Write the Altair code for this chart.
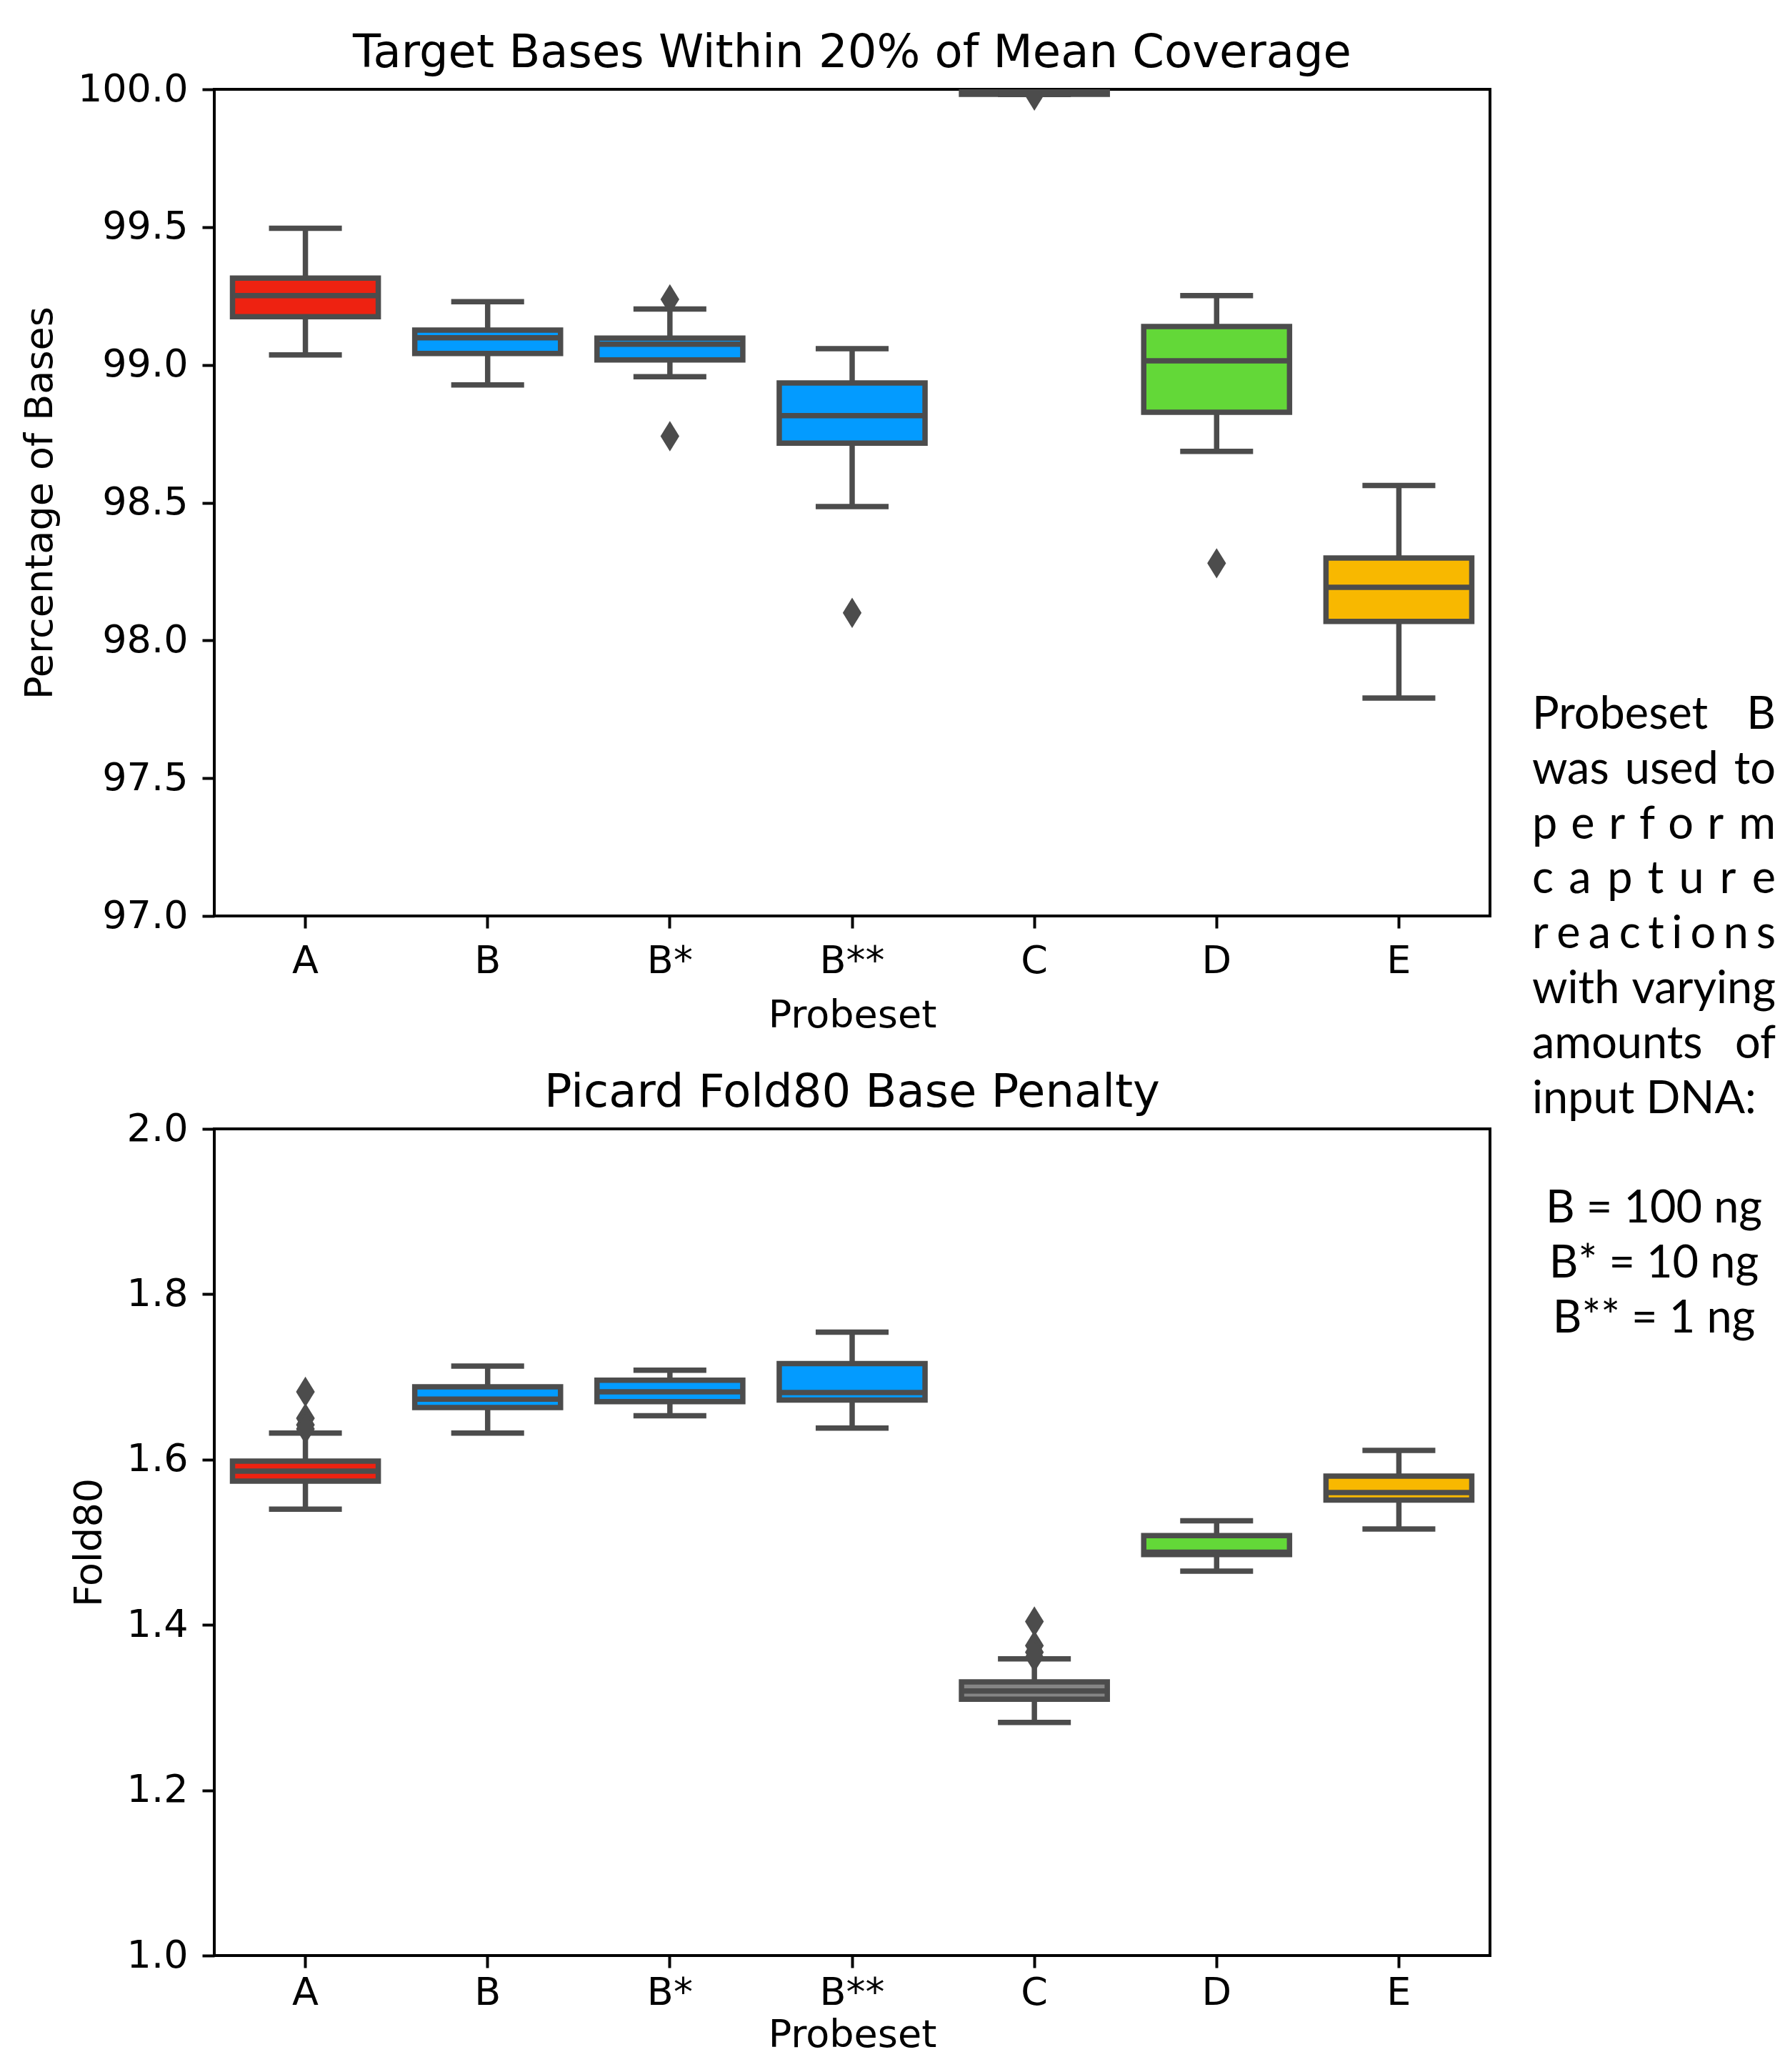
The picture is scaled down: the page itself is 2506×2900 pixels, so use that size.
import altair as alt
import pandas as pd

# ---------------- data ----------------
categories = ["A", "B", "B*", "B**", "C", "D", "E"]
box_colors = ["#EE2211", "#039BFF", "#039BFF", "#039BFF", "#858585", "#63D838", "#F8B800"]

# Target bases within 20% of mean coverage (percentage of bases)
cov_whislo = [99.036, 98.927, 98.957, 98.486, 99.981, 98.686, 97.791]
cov_q1 = [99.175, 99.041, 99.018, 98.716, 99.982, 98.828, 98.069]
cov_med = [99.251, 99.098, 99.075, 98.816, 99.992, 99.015, 98.193]
cov_q3 = [99.315, 99.126, 99.097, 98.934, 100.0, 99.139, 98.299]
cov_whishi = [99.496, 99.229, 99.203, 99.059, 100.0, 99.251, 98.562]
cov_out_cat = ["B*", "B*", "B**", "C", "D"]
cov_out_val = [99.238, 98.741, 98.100, 99.977, 98.280]

# Picard Fold80 base penalty
f80_whislo = [1.540, 1.632, 1.653, 1.638, 1.282, 1.465, 1.516]
f80_q1 = [1.574, 1.663, 1.670, 1.672, 1.310, 1.485, 1.551]
f80_med = [1.586, 1.673, 1.682, 1.681, 1.320, 1.488, 1.560]
f80_q3 = [1.598, 1.688, 1.696, 1.716, 1.331, 1.508, 1.580]
f80_whishi = [1.632, 1.713, 1.708, 1.754, 1.359, 1.526, 1.611]
f80_out_cat = ["A", "A", "A", "A", "C", "C", "C", "C"]
f80_out_val = [1.682, 1.650, 1.642, 1.637, 1.404, 1.375, 1.367, 1.361]

cov_ticks = [97.0, 97.5, 98.0, 98.5, 99.0, 99.5, 100.0]
f80_ticks = [1.0, 1.2, 1.4, 1.6, 1.8, 2.0]

# side note (justified text, one entry per line)
note_lines = [
    ["Probeset", "B"],
    ["was", "used", "to"],
    list("perform"),
    list("capture"),
    list("reactions"),
    ["with", "varying"],
    ["amounts", "of"],
    ["input DNA:"],
    [],
    ["B = 100 ng"],
    ["B* = 10 ng"],
    ["B** = 1 ng"],
]
centered_rows = {9, 10, 11}

# ---------------- styling ----------------
LINE = "#4C4C4C"
LW = 7.5
PLOT_W = 1786
PLOT_H = 1157
BAND = PLOT_W / len(categories)
FONT = "DejaVu Sans"
NOTE_FONT_SIZE = 63
NOTE_W = 341

DIAMOND = "M0,-1L0.62,0L0,1L-0.62,0Z"

# approximate advance widths (em) of the note font, for justification
GLYPH_EM = {
    "a": 0.51, "b": 0.56, "c": 0.47, "d": 0.56, "e": 0.53, "f": 0.33,
    "g": 0.50, "h": 0.56, "i": 0.24, "m": 0.84, "n": 0.56, "o": 0.56,
    "p": 0.55, "r": 0.37, "s": 0.43, "t": 0.35, "u": 0.56, "v": 0.51,
    "w": 0.76, "y": 0.51, "P": 0.60, "B": 0.63,
}


def tok_width(tok):
    return sum(GLYPH_EM.get(c, 0.5) for c in tok) * NOTE_FONT_SIZE


def stats_frame(lo, q1, med, q3, hi):
    return pd.DataFrame({
        "probeset": categories, "whislo": lo, "q1": q1, "med": med,
        "q3": q3, "whishi": hi,
    })


def box_layer(stats, out, domain, ticks, ytitle, xlabpad, xtitlepad):
    xenc = alt.X(
        "probeset:N", sort=categories,
        scale=alt.Scale(domain=categories, paddingInner=0, paddingOuter=0),
        axis=alt.Axis(labelAngle=0, bandPosition=0.5, title="Probeset",
                      labelPadding=xlabpad, titlePadding=xtitlepad),
    )
    yscale = alt.Scale(domain=domain, nice=False, zero=False)
    base = alt.Chart(stats)
    whisk = base.mark_rule(color=LINE, strokeWidth=LW, clip=True).encode(
        x=xenc,
        y=alt.Y("whislo:Q", scale=yscale,
                axis=alt.Axis(values=ticks, format=".1f", title=ytitle)),
        y2="whishi:Q",
    )
    box = base.mark_bar(
        width=alt.RelativeBandSize(0.8), stroke=LINE, strokeWidth=LW,
        opacity=1, clip=True,
    ).encode(
        x=xenc, y=alt.Y("q1:Q", scale=yscale), y2="q3:Q",
        color=alt.Color("probeset:N",
                        scale=alt.Scale(domain=categories, range=box_colors),
                        legend=None),
    )
    med = base.mark_tick(size=BAND * 0.8, thickness=LW, color=LINE,
                         opacity=1, clip=True).encode(
        x=xenc, y=alt.Y("med:Q", scale=yscale))
    caplo = base.mark_tick(size=BAND * 0.4, thickness=LW, color=LINE,
                           opacity=1, clip=True).encode(
        x=xenc, y=alt.Y("whislo:Q", scale=yscale))
    caphi = base.mark_tick(size=BAND * 0.4, thickness=LW, color=LINE,
                           opacity=1, clip=True).encode(
        x=xenc, y=alt.Y("whishi:Q", scale=yscale))
    pts = alt.Chart(out).mark_point(
        shape=DIAMOND, size=1800, filled=True, color=LINE, opacity=1,
        strokeWidth=0, clip=True,
    ).encode(x=xenc, y=alt.Y("val:Q", scale=yscale))
    return alt.layer(whisk, box, med, caplo, caphi, pts)


def make_title(text):
    return alt.TitleParams(text, fontSize=64, font=FONT, fontWeight="normal",
                           color="black", anchor="middle", offset=-9)


cov_stats = stats_frame(cov_whislo, cov_q1, cov_med, cov_q3, cov_whishi)
cov_out = pd.DataFrame({"probeset": cov_out_cat, "val": cov_out_val})
f80_stats = stats_frame(f80_whislo, f80_q1, f80_med, f80_q3, f80_whishi)
f80_out = pd.DataFrame({"probeset": f80_out_cat, "val": f80_out_val})

# note tokens: justified lines (equal gaps between tokens)
rows = []
for r, toks in enumerate(note_lines):
    n = len(toks)
    if n == 0:
        continue
    if r in centered_rows:
        rows.append({"row": r, "xf": 0.5, "txt": toks[0], "al": "center"})
        continue
    if n == 1:
        rows.append({"row": r, "xf": 0.0, "txt": toks[0], "al": "left"})
        continue
    widths = [tok_width(t) for t in toks]
    gap = (NOTE_W - sum(widths)) / (n - 1)
    pos = 0.0
    for k, t in enumerate(toks):
        if k == n - 1:
            rows.append({"row": r, "xf": 1.0, "txt": t, "al": "right"})
        else:
            rows.append({"row": r, "xf": pos / NOTE_W, "txt": t, "al": "left"})
        pos += widths[k] + gap
note_df = pd.DataFrame(rows)

note_x = alt.X("xf:Q", scale=alt.Scale(domain=[0, 1], range=[1845, 1845 + NOTE_W]), axis=None)
note_y = alt.Y("row:Q", scale=alt.Scale(domain=[0, 11], range=[876, 1721]), axis=None)
note_layers = []
for al in ["left", "center", "right"]:
    note_layers.append(
        alt.Chart(note_df).transform_filter(alt.datum.al == al).mark_text(
            align=al, baseline="middle", font="Lato", fontSize=NOTE_FONT_SIZE,
            color="black",
        ).encode(x=note_x, y=note_y, text="txt:N")
    )
note = alt.layer(*note_layers)

top_boxes = box_layer(cov_stats, cov_out, [97.0, 100.0], cov_ticks,
                      "Percentage of Bases", 19, 22)
top = alt.layer(top_boxes, note).resolve_scale(
    x="independent", y="independent"
).properties(
    width=PLOT_W, height=PLOT_H,
    title=make_title("Target Bases Within 20% of Mean Coverage"),
)
bottom = box_layer(f80_stats, f80_out, [1.0, 2.0], f80_ticks, "Fold80",
                   8, 5).properties(
    width=PLOT_W, height=PLOT_H,
    title=make_title("Picard Fold80 Base Penalty"),
)

chart = alt.vconcat(top, bottom, spacing=298, bounds="flush").properties(
    padding={"left": 19, "top": 33, "right": 0, "bottom": 0},
    background="white",
).configure_view(
    stroke="black", strokeWidth=4,
).configure_axis(
    domain=False, ticks=True, tickColor="black", tickWidth=4, tickSize=17,
    labelFont=FONT, labelFontSize=54, labelColor="black",
    titleFont=FONT, titleFontSize=54, titleFontWeight="normal",
    titleColor="black", grid=False,
).configure_axisY(
    labelPadding=20, titlePadding=25,
)

chart.save("out.html", embed_options={"renderer": "svg", "actions": False})
